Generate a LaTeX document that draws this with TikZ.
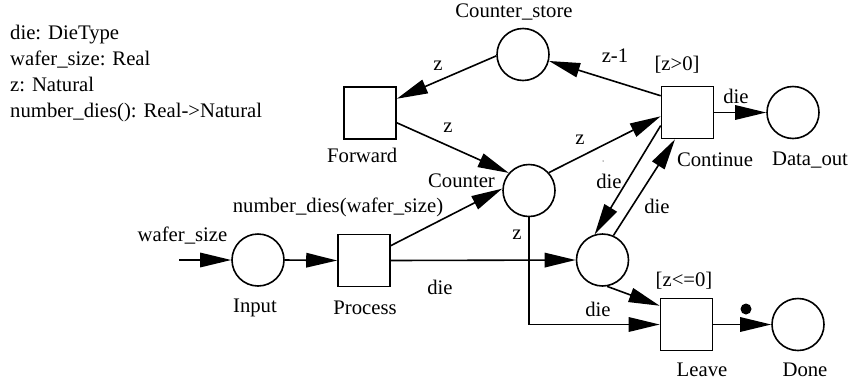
\documentclass[tikz,border=0pt]{standalone}
\usepackage{fontspec}
\setmainfont{Liberation Serif}
\usetikzlibrary{arrows.meta}

\begin{document}
\begin{tikzpicture}[x=1bp, y=-1bp,
  every node/.style={font=\fontsize{20.7bp}{26bp}\selectfont, inner sep=0pt},
  place/.style={circle, draw, line width=1.6bp, minimum size=52bp},
  trans/.style={rectangle, draw, line width=1.6bp, minimum size=52bp},
  arc/.style={line width=1.6bp, -{Triangle[length=31bp, width=14.5bp]}},
  lbl/.style={anchor=center},
  decl/.style={anchor=base west}
]
\useasboundingbox (0,0) rectangle (851,383);

% declarations
\node[decl] (d1) at (10,39)  {die: DieType};
\node[decl] (d2) at (10,65)  {wafer\_size: Real};
\node[decl] (d3) at (10,91)  {z: Natural};
\node[decl] (d4) at (10,117) {number\_dies(): Real->Natural};

% places and transitions
\node[place] (cs)  at (523,54.5)   {};
\node[trans] (fw)  at (370,113)    {};
\node[trans] (ct)  at (687.5,112.5){};
\node[place] (do)  at (793,112.5)  {};
\node[place] (co)  at (529,190.5)  {};
\node[place] (mid) at (602.5,260)  {};
\node[place] (in)  at (258,260)    {};
\node[trans] (pr)  at (364,260.5)  {};
\node[trans] (lv)  at (686.5,324.5){};
\node[place] (dn)  at (798,324.5)  {};
\coordinate (src) at (179,260);

% node names
\node[lbl] (cs-l) at (514,12)   {Counter\_store};
\node[anchor=west] (fw-l) at (327,155) {Forward};
\node[lbl] (ct-l) at (715,160)  {Continue};
\node[lbl] (do-l) at (810,160)  {Data\_out};
\node[lbl] (co-l) at (461.5,181){Counter};
\node[lbl] (in-l) at (255,308)  {Input};
\node[lbl] (pr-l) at (365,308)  {Process};
\node[lbl] (lv-l) at (702,370)  {Leave};
\node[lbl] (dn-l) at (805,370)  {Done};

% guards
\node[lbl] (g1) at (677,65)  {[z>0]};
\node[lbl] (g2) at (684,281) {[z<=0]};

% arcs
\draw[arc] (cs.183) -- (fw.28);
\draw[arc] (fw.-20) -- (co.139);
\draw[arc] (co.42) -- (ct.188);
\draw[arc] (ct.148) -- (cs.-14);
\draw[arc] (ct.east) -- (do.west);
\draw[arc] (ct.206) -- (mid.107);
\draw[arc] (mid.66) -- (ct.245);
\draw[arc] (src) -- (in.west);
\draw[arc] (in.east) -- (pr.west);
\draw[arc] (pr.29) -- (co.176);
\draw[arc] (pr.east) -- (mid.west);
\draw[arc] (co.south) |- (lv.west);
\draw[arc] (mid.-80) -- (lv.145);
\draw[arc] (lv.east) -- (dn.west);

% arc inscriptions
\node[lbl] (a1)  at (438,66)   {z};
\node[lbl] (a2)  at (448,128)  {z};
\node[lbl] (a3)  at (580,140)  {z};
\node[lbl] (a4)  at (615,56)   {z-1};
\node[lbl] (a5)  at (736,96)   {die};
\node[lbl] (a6)  at (609,181)  {die};
\node[lbl] (a7)  at (657,206)  {die};
\node[lbl] (a8)  at (182.5,236){wafer\_size};
\node[lbl] (a9)  at (338,207)  {number\_dies(wafer\_size)};
\node[lbl] (a10) at (517,235)  {z};
\node[lbl] (a11) at (440,287)  {die};
\node[lbl] (a12) at (598,309)  {die};
\node[circle, fill, minimum size=11bp] (tok) at (746,309) {};
\node[circle, fill=black!50, minimum size=1.5bp] (dot) at (603,161) {};
\end{tikzpicture}
\end{document}
